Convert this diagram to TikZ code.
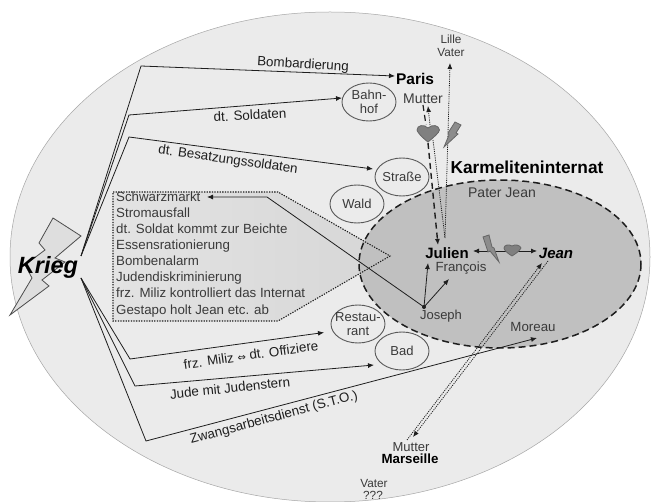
\documentclass[tikz,border=0pt]{standalone}
\usepackage{fontspec}
\setmainfont{Liberation Sans}
\newfontfamily\symfont{DejaVu Sans}
\usetikzlibrary{arrows.meta,shadings,shapes.geometric}
\definecolor{bgfill}{HTML}{EBEBEB}
\definecolor{innerfill}{HTML}{C0C0C0}
\definecolor{inkdark}{HTML}{1E1E1E}
\definecolor{inktext}{HTML}{3A3A3A}
\definecolor{heartfill}{HTML}{808080}
\tikzset{
  conn/.style={draw=inkdark,line width=0.8pt,line join=miter},
  arr/.style={conn,-{Latex[length=6pt,width=5pt]}},
  dotline/.style={draw=inkdark,line width=0.8pt,dash pattern=on 1.1pt off 1.1pt},
  dotarr/.style={dotline,-{Latex[length=6pt,width=5pt,sep=0pt]}},
  dashline/.style={draw=inkdark,line width=1.4pt,dash pattern=on 6pt off 4pt},
  placebox/.style={draw=black!65,line width=0.9pt,fill=bgfill,ellipse,minimum width=54pt,minimum height=38pt,inner sep=-5pt,align=center,font=\fontsize{13}{14.5}\selectfont,text=inktext},
  conlabel/.style={inner sep=0pt,font=\fontsize{13.4}{15}\selectfont,text=inkdark},
  persontext/.style={inner sep=0pt,font=\fontsize{13.3}{15}\selectfont,text=inktext},
  boldtext/.style={inner sep=0pt,font=\fontsize{15}{17}\selectfont\bfseries,text=black},
  boltshape/.style={draw=black!60,line width=0.8pt,fill=black!45}
}
\begin{document}
\begin{tikzpicture}[x=1pt,y=-1pt]
\useasboundingbox (0,0) rectangle (651,502);
\fill[white] (0,0) rectangle (651,502);
% outer field
\draw[draw=black!35,line width=0.5pt,fill=bgfill] (330,257) ellipse [x radius=320,y radius=245];
% dotted list panel
\path[left color=black!11,right color=black!16]
  (113,192) -- (278,192) -- (390,256) -- (278,321) -- (113,321) -- cycle;
% inner field
\fill[innerfill] (500,264) ellipse [x radius=141,y radius=84];
\draw[dotline,line width=1.1pt,dash pattern=on 1.3pt off 1.3pt] (113,192) -- (278,192) -- (390,256) -- (278,321) -- (113,321) -- cycle;
\draw[draw=inkdark,line width=1.5pt,dash pattern=on 7pt off 4pt] (500,264) ellipse [x radius=141,y radius=84];

% places
\node[placebox] (bahnhof) at (369,102) {Bahn-\\hof};
\node[placebox] (strasse) at (402,177) {Straße};
\node[placebox] (wald) at (357,204) {Wald};
\node[placebox] (restaurant) at (358,324) {Restau-\\rant};
\node[placebox] (bad) at (402,351) {Bad};

% Krieg bolt
\draw[boltshape,fill=black!13,draw=black!70] (53,218) -- (81,236) -- (55,258) -- (65,262) -- (42,280) -- (49,286) -- (10,315) -- (32,278) -- (25,265) -- (45,250) -- (39,243) -- cycle;
\node[inner sep=0pt,font=\fontsize{23.5}{26}\selectfont\bfseries\itshape,text=black] (krieg) at (48,267) {Krieg};

% text nodes
\node[boldtext,font=\fontsize{15.5}{17}\selectfont\bfseries] (paris) at (415,79) {Paris};
\node[persontext,font=\fontsize{14}{16}\selectfont] (mutterp) at (423,99) {Mutter};
\node[persontext,font=\fontsize{11.8}{13}\selectfont] (lille) at (451,39) {Lille};
\node[persontext,font=\fontsize{11.8}{13}\selectfont] (vaterl) at (451,53) {Vater};
\node[inner sep=0pt,font=\fontsize{17.3}{19}\selectfont\bfseries,text=black] (karm) at (527,167) {Karmeliteninternat};
\node[persontext,font=\fontsize{14}{16}\selectfont] (pater) at (502,193) {Pater Jean};
\node[boldtext] (julien) at (447,253) {Julien};
\node[persontext] (francois) at (461,268) {François};
\node[boldtext,font=\fontsize{15}{17}\selectfont\bfseries\itshape] (jean) at (556,253) {Jean};
\node[persontext,font=\fontsize{13}{15}\selectfont] (joseph) at (441,316) {Joseph};
\node[persontext] (moreau) at (533,327) {Moreau};
\node[persontext,font=\fontsize{13}{15}\selectfont] (mutterm) at (411,447) {Mutter};
\node[boldtext,font=\fontsize{13.3}{15}\selectfont\bfseries] (marseille) at (410,459) {Marseille};
\node[persontext,font=\fontsize{11.8}{13}\selectfont] (vaterm) at (374,483) {Vater};
\node[persontext,font=\fontsize{11.8}{13}\selectfont] (unknown) at (373,495.5) {???};

% list
\node[anchor=north west,inner sep=0pt,align=left,font=\fontsize{13.3}{16.1}\selectfont,text=inktext] (liste) at (116,191.5) {Schwarzmarkt\\Stromausfall\\dt. Soldat kommt zur Beichte\\Essensrationierung\\Bombenalarm\\Judendiskriminierung\\frz. Miliz kontrolliert das Internat\\Gestapo holt Jean etc. ab};

% coordinates
\coordinate (kt) at (81,256);
\coordinate (kb) at (81,278);
\coordinate (b1) at (141,66);   \coordinate (e1) at (395,76);
\coordinate (b2) at (129,115);  \coordinate (e2) at (342,98);
\coordinate (b3) at (129,137);  \coordinate (e3) at (373,169);
\coordinate (b4) at (130,359);  \coordinate (e4) at (324,332.5);
\coordinate (b5) at (135,386);  \coordinate (e5) at (374,365);
\coordinate (b6) at (146,441);  \coordinate (e6) at (537,338);
\coordinate (jos) at (424,307);
\coordinate (jb) at (267,197);  \coordinate (sch) at (207,197);
\coordinate (jtip) at (428,263); \coordinate (ftip) at (449,279);
\coordinate (heart) at (428,133);
\coordinate (hb1) at (428,143);  \coordinate (jul) at (438,245);
\coordinate (hb2) at (433,140);  \coordinate (jul2) at (445,238);
\coordinate (lil) at (450,63);
\coordinate (mu1) at (423,105);  \coordinate (hu1) at (426,125);
\coordinate (hu2) at (430,125);  \coordinate (mu2) at (428,106);
\coordinate (jl) at (473,251);   \coordinate (jr) at (537,251);
\coordinate (ma) at (407,440);   \coordinate (je) at (542,263);
\coordinate (jf) at (548,261);   \coordinate (mb) at (413,437);

% connectors from Krieg
\draw[arr] (kt) -- (b1) -- (e1);
\draw[arr] (kt) -- (b2) -- (e2);
\draw[arr] (kt) -- (b3) -- (e3);
\draw[arr] (kb) -- (b4) -- (e4);
\draw[arr] (kb) -- (b5) -- (e5);
\draw[arr] (kb) -- (b6) -- (e6);

% Joseph
\fill[inkdark] (jos) circle (2pt);
\draw[arr] (jos) -- (jb) -- (sch);
\draw[arr] (jos) -- (jtip);
\draw[arr] (jos) -- (ftip);

% Julien - Mutter
\draw[dashline,-{Latex[length=6pt,width=5pt]}] (hb1) -- (jul);
\draw[dashline,line width=1.2pt] (mu1) -- (hu1);
\draw[dotarr] (hu2) -- (mu2);
\draw[dotline] (hb2) -- (jul2);
\draw[dotarr] (jul2) -- (lil);

% Julien - Jean
\draw[conn,{Latex[length=6pt,width=5pt]}-{Latex[length=6pt,width=5pt]}] (jl) -- (jr);

% Jean - Marseille
\draw[dotarr] (ma) -- (je);
\draw[dotarr] (jf) -- (mb);

% hearts and bolts
\draw[draw=black!60,line width=0.8pt,fill=heartfill] (428,142) .. controls (420,136) and (417,131) .. (417,130) .. controls (417,125) and (424,124) .. (428,128) .. controls (432,124) and (439,125) .. (439.5,130) .. controls (439,133) and (434,137) .. (428,142) -- cycle;
\draw[draw=black!60,line width=0.8pt,fill=heartfill] (512,256) .. controls (507,253) and (504,250) .. (504,248) .. controls (504,245) and (509,244) .. (512,246) .. controls (515,244) and (520,245) .. (521,248) .. controls (520,250) and (517,253) .. (512,256) -- cycle;
\draw[boltshape] (455,122) -- (461,125) -- (456,133) -- (458,134) -- (444,147) -- (449,135) -- (448,133) -- cycle;
\draw[boltshape] (483,237) -- (489,235) -- (492,247) -- (494,248) -- (499,262) -- (490,251) -- (488,252) -- cycle;

% connector labels
\node[conlabel,rotate=-3.5] (lbomb) at (303,65) {Bombardierung};
\node[conlabel,rotate=3] (lsold) at (250,115) {dt. Soldaten};
\node[conlabel,rotate=-8] (lbes) at (228,160) {dt. Besatzungssoldaten};
\node[conlabel,rotate=8] (lfrz) at (251,355) {frz. Miliz {\symfont\fontsize{10}{11}\selectfont ⇔} dt. Offiziere};
\node[conlabel,rotate=6] (ljude) at (230,388) {Jude mit Judenstern};
\node[conlabel,rotate=15] (lzw) at (274,418) {Zwangsarbeitsdienst (S.T.O.)};
\end{tikzpicture}
\end{document}
